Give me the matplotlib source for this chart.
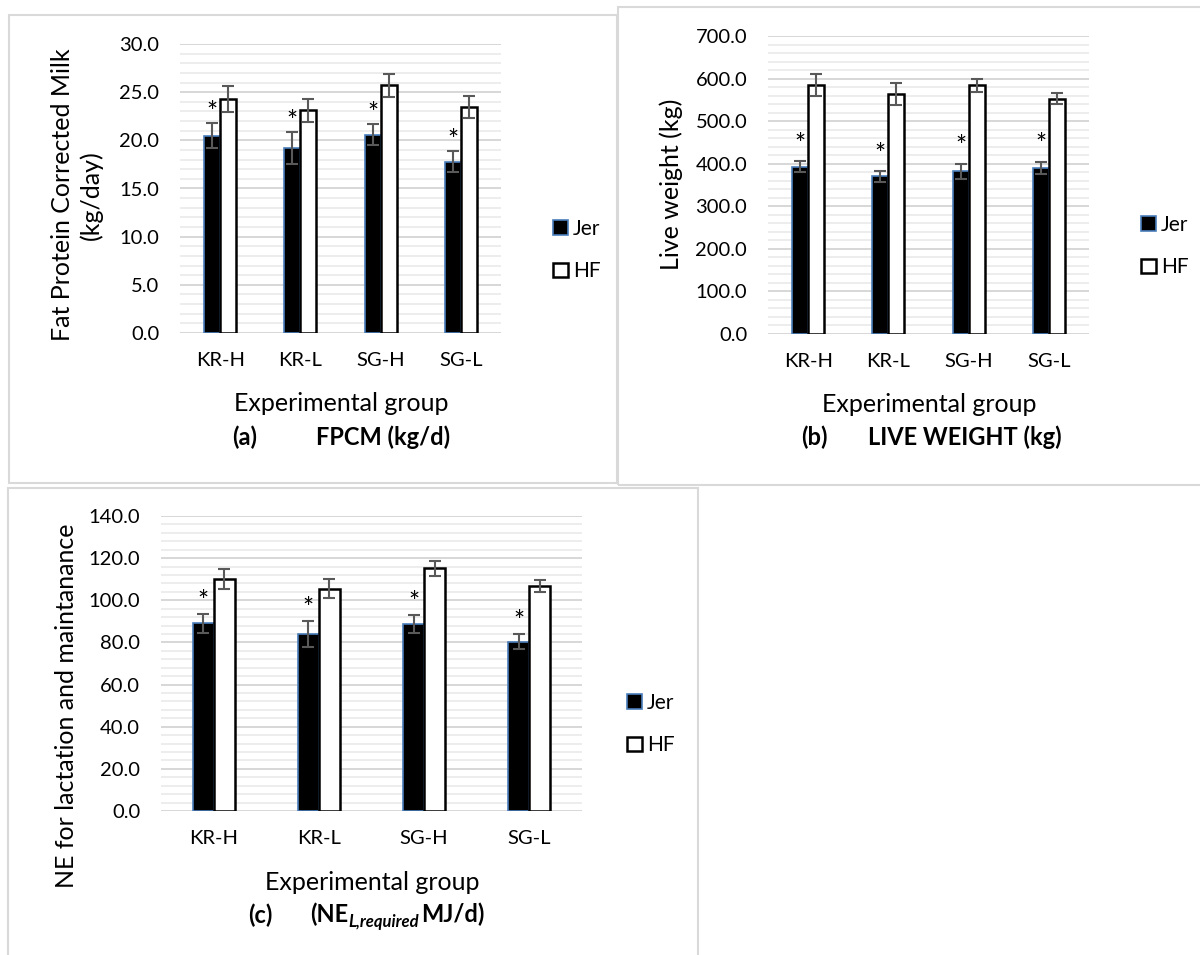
import matplotlib
matplotlib.use("Agg")
import matplotlib.pyplot as plt
import numpy as np
from matplotlib.patches import Rectangle
from matplotlib.ticker import MultipleLocator, FormatStrFormatter

plt.rcParams['font.family'] = ['Lato', 'DejaVu Sans']

# ---------------- data ----------------
groups = ['KR-H', 'KR-L', 'SG-H', 'SG-L']
series = ['Jer', 'HF']

fpcm_jer = [20.5, 19.2, 20.6, 17.8]
fpcm_jer_err = [1.3, 1.7, 1.05, 1.07]
fpcm_hf = [24.3, 23.1, 25.7, 23.5]
fpcm_hf_err = [1.35, 1.2, 1.2, 1.15]

lw_jer = [393, 370, 382, 391]
lw_jer_err = [13, 12, 18, 14]
lw_hf = [585, 563, 584, 553]
lw_hf_err = [25, 26, 16, 12]

ne_jer = [89.1, 84.0, 88.7, 80.4]
ne_jer_err = [4.4, 6.1, 4.1, 3.7]
ne_hf = [110.1, 105.5, 115.2, 106.8]
ne_hf_err = [4.6, 4.5, 3.6, 3.0]

# ---------------- figure ----------------
W, H = 1200, 955
fig = plt.figure(figsize=(W / 100, H / 100), dpi=100)
fig.patch.set_facecolor('white')


def fx(px):
    return px / W


def fy(py):
    return 1 - py / H


def add_ax(x0, y0, x1, y1):
    return fig.add_axes([fx(x0), fy(y1), (x1 - x0) / W, (y1 - y0) / H])


def border(x0, y0, x1, y1):
    fig.patches.append(Rectangle((fx(x0), fy(y1)), (x1 - x0) / W, (y1 - y0) / H,
                                 transform=fig.transFigure, fill=False,
                                 edgecolor='#d9d9d9', linewidth=1.5, zorder=0))


border(9, 15, 617, 483)
border(618, 7, 1205, 485)
border(8, 488, 698, 960)

TICK_FS = 14.5
TITLE_FS = 18
CAP_FS = 17


def panel(ax, jer, jer_err, hf, hf_err, top, major, minor, star_off, leg_xy):
    x = np.arange(len(groups))
    ax.set_xlim(-0.5, len(groups) - 0.5)
    ax.set_ylim(0, top)
    ax.yaxis.set_major_locator(MultipleLocator(major))
    ax.yaxis.set_minor_locator(MultipleLocator(minor))
    ax.yaxis.set_major_formatter(FormatStrFormatter('%.1f'))
    ax.grid(which='major', axis='y', color='#d4d4d4', linewidth=1.3)
    ax.grid(which='minor', axis='y', color='#ececec', linewidth=1.3)
    ax.set_axisbelow(True)
    for s in ax.spines.values():
        s.set_visible(False)
    ax.tick_params(which='both', length=0)
    ax.tick_params(axis='y', pad=15, labelsize=TICK_FS, colors='black')
    ax.tick_params(axis='x', pad=14, labelsize=TICK_FS, colors='black')
    ax.set_xticks(x)
    ax.set_xticklabels(groups)

    b1 = ax.bar(x - 0.1, jer, 0.2, color='black', edgecolor='#4a7ebb', linewidth=1.2,
                label=series[0])
    b2 = ax.bar(x + 0.1, hf, 0.2, color='white', edgecolor='black', linewidth=1.8,
                label=series[1])
    ax.errorbar(x - 0.1, jer, yerr=jer_err, fmt='none', ecolor='#595959',
                elinewidth=1.5, capsize=4.5, capthick=1.5)
    ax.errorbar(x + 0.1, hf, yerr=hf_err, fmt='none', ecolor='#595959',
                elinewidth=1.5, capsize=4.5, capthick=1.5)
    for i in range(len(groups)):
        ax.annotate('*', xy=(x[i] - 0.1, jer[i] + jer_err[i]), xytext=(0, star_off),
                    textcoords='offset points', ha='center', va='baseline',
                    fontsize=19, color='black')
    ax.legend([b1, b2], series, loc='center left',
              bbox_to_anchor=(fx(leg_xy[0]), fy(leg_xy[1])),
              bbox_transform=fig.transFigure, frameon=False, borderpad=0,
              handlelength=0.7, handleheight=0.7, handletextpad=0.25,
              labelspacing=1.1, fontsize=15)


# (a)
ax_a = add_ax(180, 44, 501, 333)
panel(ax_a, fpcm_jer, fpcm_jer_err, fpcm_hf, fpcm_hf_err, 30, 5, 1, 1.5, (543, 250))
fig.text(fx(77), fy(195), 'Fat Protein Corrected Milk\n(kg/day)', rotation=90,
         ha='center', va='center', fontsize=TITLE_FS, linespacing=1.3, multialignment='center')
fig.text(fx(341), fy(403), 'Experimental group', ha='center', va='center', fontsize=TITLE_FS)
fig.text(fx(245), fy(437), '(a)', ha='center', va='center', fontsize=CAP_FS, fontweight='bold')
fig.text(fx(316), fy(437), 'FPCM (kg/d)', ha='left', va='center', fontsize=CAP_FS, fontweight='bold')

# (b)
ax_b = add_ax(768, 36, 1089, 334)
panel(ax_b, lw_jer, lw_jer_err, lw_hf, lw_hf_err, 700, 100, 20, 6, (1131, 246))
fig.text(fx(671), fy(184), 'Live weight (kg)', rotation=90,
         ha='center', va='center', fontsize=TITLE_FS)
fig.text(fx(929), fy(405), 'Experimental group', ha='center', va='center', fontsize=TITLE_FS)
fig.text(fx(814), fy(437), '(b)', ha='center', va='center', fontsize=CAP_FS, fontweight='bold')
fig.text(fx(868), fy(437), 'LIVE WEIGHT (kg)', ha='left', va='center', fontsize=CAP_FS, fontweight='bold')

# (c)
ax_c = add_ax(161, 516, 582, 811)
panel(ax_c, ne_jer, ne_jer_err, ne_hf, ne_hf_err, 140, 20, 4, 3, (617, 724))
fig.text(fx(67), fy(706), 'NE for lactation and maintanance', rotation=90,
         ha='center', va='center', fontsize=TITLE_FS)
fig.text(fx(372), fy(882), 'Experimental group', ha='center', va='center', fontsize=TITLE_FS)
fig.text(fx(260), fy(915), '(c)', ha='center', va='center', fontsize=CAP_FS, fontweight='bold')

renderer = fig.canvas.get_renderer()
t1 = fig.text(fx(310), fy(922), '(NE', ha='left', va='baseline', fontsize=CAP_FS, fontweight='bold')
bb = t1.get_window_extent(renderer)
t2 = fig.text(bb.x1 / W, fy(927), 'L,required', ha='left', va='baseline', fontsize=12,
              fontweight='bold', fontstyle='italic')
bb2 = t2.get_window_extent(renderer)
fig.text(bb2.x1 / W + 2 / W, fy(922), 'MJ/d)', ha='left', va='baseline', fontsize=CAP_FS,
         fontweight='bold')

fig.savefig('out.png', dpi=100, facecolor='white')
